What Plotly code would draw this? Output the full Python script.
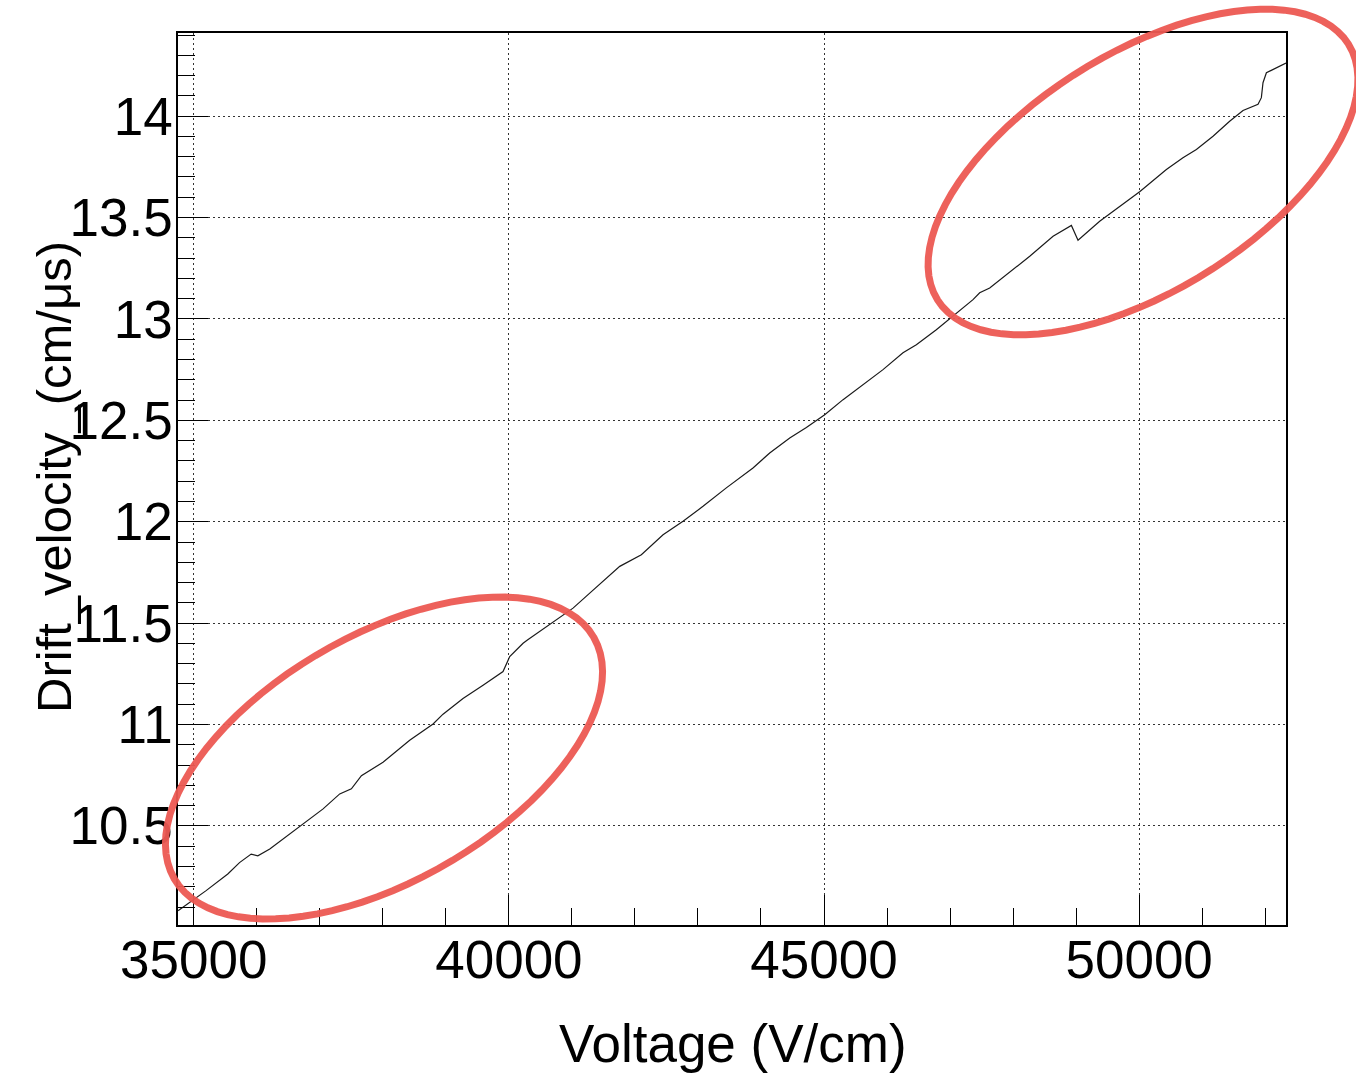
import math
import plotly.graph_objects as go

# ---- data ----
voltage = [34751, 35012, 35196, 35540, 35726, 35911, 36017, 36206, 36629, 37052,
           37316, 37501, 37660, 38003, 38426, 38797, 38955, 39272, 39590, 39907,
           40013, 40225, 40294, 40876, 41018, 41283, 41759, 42102, 42446, 42763,
           43080, 43450, 43873, 44138, 44456, 44720, 45011, 45302, 45566, 45936,
           46253, 46465, 46782, 47100, 47364, 47470, 47629, 48264, 48634, 48925,
           49030, 49374, 50008, 50432, 50695, 50908, 51172, 51436, 51648, 51886,
           51939, 51965, 52019, 52330]
drift_velocity = [10.082, 10.138, 10.181, 10.263, 10.319, 10.361, 10.353, 10.386, 10.485, 10.584,
                  10.658, 10.683, 10.748, 10.814, 10.922, 11.003, 11.051, 11.128, 11.194, 11.261,
                  11.335, 11.401, 11.417, 11.540, 11.574, 11.648, 11.780, 11.837, 11.936, 12.002,
                  12.076, 12.167, 12.265, 12.339, 12.413, 12.465, 12.528, 12.602, 12.665, 12.750,
                  12.833, 12.873, 12.947, 13.030, 13.095, 13.129, 13.153, 13.309, 13.408, 13.461,
                  13.388, 13.482, 13.627, 13.737, 13.795, 13.836, 13.901, 13.975, 14.028, 14.058,
                  14.091, 14.165, 14.214, 14.262]

x_tickvals = [35000, 40000, 45000, 50000]
x_ticktext = ["35000", "40000", "45000", "50000"]
y_tickvals = [10.5, 11, 11.5, 12, 12.5, 13, 13.5, 14]
y_ticktext = ["10.5", "11", "11.5", "12", "12.5", "13", "13.5", "14"]

x_title = "Voltage (V/cm)"
y_title = "Drift_velocity_(cm/μs)"

# ---- layout geometry ----
W, H = 1356, 1074
L, R, T, B = 178, 70, 33, 149
PW, PH = W - L - R, H - T - B
FONT = "Liberation Sans, Arial, Helvetica, sans-serif"


def px2paper(px, py):
    return (px - L) / PW, (T + PH - py) / PH


def ellipse_path(cx, cy, a, b, theta_deg, n=90):
    th = math.radians(theta_deg)
    pts = []
    for i in range(n + 1):
        t = 2 * math.pi * i / n
        px = cx + a * math.cos(th) * math.cos(t) - b * math.sin(th) * math.sin(t)
        py = cy - (a * math.sin(th) * math.cos(t) + b * math.cos(th) * math.sin(t))
        pts.append(px2paper(px, py))
    return "M " + " L ".join(f"{x:.5f},{y:.5f}" for x, y in pts) + " Z"


fig = go.Figure()
fig.add_trace(go.Scatter(x=voltage, y=drift_velocity, mode="lines",
                         line=dict(color="#1a1a1a", width=1.2), showlegend=False,
                         hoverinfo="x+y"))

axis_common = dict(
    showline=True, linecolor="black", linewidth=1.5, mirror=True,
    ticks="inside", ticklen=30, tickwidth=1.3, tickcolor="black",
    showgrid=True, gridcolor="#333", gridwidth=1, griddash="2px,3px",
    zeroline=False,
    tickfont=dict(family=FONT, size=53, color="black"),
)

fig.update_xaxes(
    range=[34750, 52330], tickmode="array", tickvals=x_tickvals, ticktext=x_ticktext,
    minor=dict(tickmode="linear", tick0=35000, dtick=1000, ticks="inside", ticklen=17,
               tickwidth=1.3, tickcolor="black", showgrid=False),
    ticklabelstandoff=-12,
    **axis_common,
)
fig.update_yaxes(
    range=[10.0115, 14.41], tickmode="array", tickvals=y_tickvals, ticktext=y_ticktext,
    minor=dict(tickmode="linear", tick0=10, dtick=0.1, ticks="inside", ticklen=17,
               tickwidth=1.3, tickcolor="black", showgrid=False),
    ticklabelstandoff=-7,
    **axis_common,
)

xt_x, xt_y = px2paper(733, 1043)
yt_x, yt_y = px2paper(54, 477)

ell_color = "rgba(236,88,82,0.95)"
fig.update_layout(
    width=W, height=H,
    margin=dict(l=L, r=R, t=T, b=B, autoexpand=False),
    paper_bgcolor="white", plot_bgcolor="white",
    font=dict(family=FONT, color="black"),
    annotations=[
        dict(text=x_title, xref="paper", yref="paper", x=xt_x, y=xt_y,
             xanchor="center", yanchor="middle", showarrow=False,
             font=dict(family=FONT, size=53, color="black")),
        dict(text=y_title, xref="paper", yref="paper", x=yt_x, y=yt_y,
             xanchor="center", yanchor="middle", showarrow=False, textangle=-90,
             font=dict(family=FONT, size=49, color="black")),
    ],
    shapes=[
        dict(type="path", xref="paper", yref="paper",
             path=ellipse_path(1143, 172, 242, 119, 31.85),
             line=dict(color=ell_color, width=7)),
        dict(type="path", xref="paper", yref="paper",
             path=ellipse_path(384, 758, 242, 123, 29.9),
             line=dict(color=ell_color, width=7)),
    ],
)

fig.write_html("out.html", config={"displayModeBar": False},
               post_script="document.body.style.margin='0';document.body.style.overflow='hidden';")
